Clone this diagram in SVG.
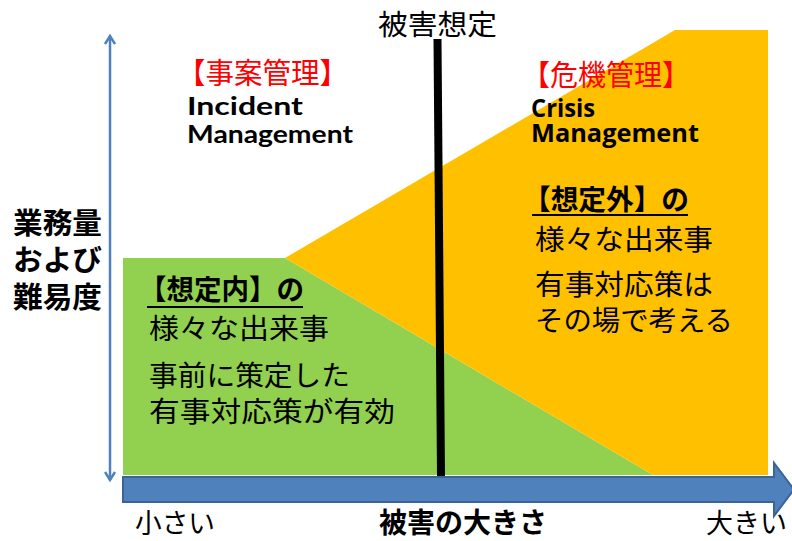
<svg xmlns="http://www.w3.org/2000/svg" width="792" height="541" viewBox="0 0 792 541">
<style>
.jp{font-family:"Noto Sans CJK JP","Noto Sans CJK SC",sans-serif;fill:#000}
.b{font-weight:bold}
.red{fill:#FF0000}
.en{font-family:"Lato","Liberation Sans",sans-serif;font-weight:bold;fill:#000}
.en2{font-family:"Open Sans","Liberation Sans",sans-serif;font-weight:bold;fill:#000}
.ul{stroke:#000;stroke-width:2}
</style>
<defs>
<marker id="vh" viewBox="0 0 12 12" refX="10" refY="6" markerWidth="12" markerHeight="12" markerUnits="userSpaceOnUse" orient="auto-start-reverse">
<polyline points="2,1 10,6 2,11" fill="none" stroke="#4F81BD" stroke-width="2.5"/>
</marker>
</defs>
<rect width="792" height="541" fill="#FFFFFF"/>
<g id="areas">
<polygon id="green" points="123,258 285,258 653,475 123,475" fill="#92D050"/>
<polygon id="yellow" points="285,258 675,30 768,30 768,475 653,475" fill="#FFC000"/>
</g>
<g id="connectors">
<line id="yaxis" x1="110" y1="36" x2="110" y2="480" stroke="#4F81BD" stroke-width="2.5" marker-start="url(#vh)" marker-end="url(#vh)"/>
<line id="threshold" x1="437.5" y1="39" x2="441" y2="476" stroke="#000" stroke-width="8"/>
<polygon id="xaxis" points="123,477 774,477 774,463 794,489.5 774,516 774,502 123,502" fill="#4F81BD" stroke="#3A6496" stroke-width="2"/>
</g>
<g id="label-threshold">
<text class="jp" x="378" y="35" font-size="28" textLength="119" lengthAdjust="spacingAndGlyphs">被害想定</text>
</g>
<g id="node-incident">
<text class="jp red" x="177" y="84" font-size="29" textLength="171" lengthAdjust="spacingAndGlyphs">【事案管理】</text>
<text class="en" x="187" y="115" font-size="25" textLength="116" lengthAdjust="spacingAndGlyphs">Incident</text>
<text class="en" x="187" y="143" font-size="25" textLength="166" lengthAdjust="spacingAndGlyphs">Management</text>
</g>
<g id="node-crisis">
<text class="jp red" x="522" y="86" font-size="29" textLength="168" lengthAdjust="spacingAndGlyphs">【危機管理】</text>
<text class="en2" x="531" y="117" font-size="25" textLength="64" lengthAdjust="spacingAndGlyphs">Crisis</text>
<text class="en2" x="531" y="142" font-size="25" textLength="168" lengthAdjust="spacingAndGlyphs">Management</text>
</g>
<g id="label-yaxis">
<text class="jp b" x="13" y="234" font-size="29" textLength="89" lengthAdjust="spacingAndGlyphs">業務量</text>
<text class="jp b" x="13" y="271" font-size="29" textLength="89" lengthAdjust="spacingAndGlyphs">および</text>
<text class="jp b" x="13" y="308" font-size="29" textLength="89" lengthAdjust="spacingAndGlyphs">難易度</text>
</g>
<g id="node-expected">
<text class="jp b" x="139" y="300" font-size="28" textLength="165" lengthAdjust="spacingAndGlyphs">【想定内】の</text>
<line class="ul" x1="147" y1="307" x2="303" y2="307"/>
<text class="jp" x="149" y="339" font-size="28" textLength="180" lengthAdjust="spacingAndGlyphs">様々な出来事</text>
<text class="jp" x="149" y="386" font-size="28" textLength="201" lengthAdjust="spacingAndGlyphs">事前に策定した</text>
<text class="jp" x="149" y="422" font-size="28" textLength="246" lengthAdjust="spacingAndGlyphs">有事対応策が有効</text>
</g>
<g id="node-unexpected">
<text class="jp b" x="523" y="210" font-size="28" textLength="166" lengthAdjust="spacingAndGlyphs">【想定外】の</text>
<line class="ul" x1="532" y1="215" x2="688" y2="215"/>
<text class="jp" x="535" y="250" font-size="28" textLength="178" lengthAdjust="spacingAndGlyphs">様々な出来事</text>
<text class="jp" x="535" y="295" font-size="28" textLength="178" lengthAdjust="spacingAndGlyphs">有事対応策は</text>
<text class="jp" x="535" y="331" font-size="28" textLength="198" lengthAdjust="spacingAndGlyphs">その場で考える</text>
</g>
<g id="label-xaxis">
<text class="jp" x="135" y="533" font-size="27" textLength="80" lengthAdjust="spacingAndGlyphs">小さい</text>
<text class="jp b" x="379" y="533" font-size="28" textLength="168" lengthAdjust="spacingAndGlyphs">被害の大きさ</text>
<text class="jp" x="706" y="533" font-size="27" textLength="81" lengthAdjust="spacingAndGlyphs">大きい</text>
</g>
</svg>
